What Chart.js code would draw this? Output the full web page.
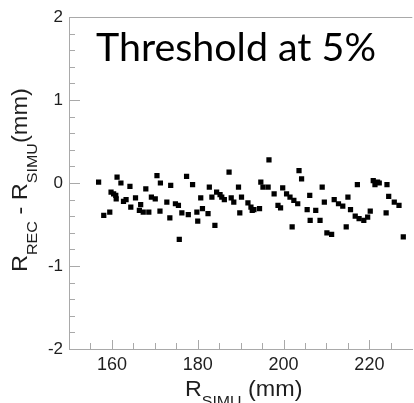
<!DOCTYPE html>
<html>
<head>
<meta charset="utf-8">
<script src="https://cdn.jsdelivr.net/npm/chart.js@4/dist/chart.umd.min.js"></script>
<style>
  html, body { margin: 0; padding: 0; background: #fff; overflow: hidden; width: 414px; height: 403px; }
  #wrap { position: relative; width: 416px; height: 403px; }
</style>
</head>
<body>
<div id="wrap"><canvas id="c" width="416" height="403"></canvas></div>
<script>
// Simulated radius (mm) of each reconstructed event
const rSimu = [
  156.9, 158.1, 159.5, 159.8, 160.4, 160.9, 161.0, 161.2, 162.1, 162.7,
  163.3, 164.2, 164.4, 165.5, 166.4, 166.7, 167.3, 167.9, 168.6, 169.2,
  170.1, 170.5, 171.2, 171.3, 172.8, 173.5, 173.7, 174.8, 175.5, 175.7,
  176.3, 177.4, 177.8, 178.8, 179.8, 180.0, 180.7, 181.1, 182.4, 182.7,
  183.3, 184.0, 184.4, 185.2, 185.6, 186.2, 187.3, 187.8, 188.4, 189.5,
  189.8, 190.2, 191.7, 192.4, 192.7, 193.1, 194.4, 194.7, 195.2, 196.4,
  196.6, 197.8, 198.7, 199.3, 199.8, 200.7, 201.5, 202.0, 202.4, 203.3,
  203.6, 204.2, 205.5, 206.1, 206.2, 207.5, 208.5, 209.0, 209.5, 210.1,
  211.2, 211.8, 212.8, 213.8, 214.6, 215.0, 215.6, 216.7, 217.2, 217.6,
  218.7, 219.6, 220.2, 220.9, 221.3, 221.9, 222.3, 223.9, 224.1, 224.5,
  225.8, 226.9, 227.9
];

// Residual R_REC - R_SIMU (mm) for the same events
const deltaR = [
   0.01, -0.39, -0.35, -0.11, -0.13, -0.15, -0.19,  0.07,  0.00, -0.22,
  -0.20, -0.04, -0.29, -0.18, -0.33, -0.26, -0.35, -0.07, -0.35, -0.17,
  -0.19,  0.09, -0.34,  0.00, -0.23, -0.42, -0.03, -0.25, -0.27, -0.68,
  -0.36,  0.08, -0.38, -0.02, -0.35, -0.46, -0.18, -0.31, -0.37, -0.05,
  -0.17, -0.51, -0.11, -0.14, -0.17, -0.20,  0.13, -0.18, -0.23, -0.05,
  -0.36, -0.17, -0.24, -0.29, -0.33, -0.32, -0.31,  0.01, -0.05, -0.05,
   0.28, -0.13, -0.27, -0.30, -0.06, -0.13, -0.17, -0.53, -0.21, -0.25,
   0.15,  0.05, -0.32, -0.15, -0.45, -0.33, -0.45, -0.05, -0.23, -0.60,
  -0.62, -0.20, -0.25, -0.28, -0.53, -0.17, -0.32, -0.40, -0.02, -0.43,
  -0.45, -0.41, -0.34,  0.03, -0.02,  0.01,  0.00, -0.36, -0.02, -0.16,
  -0.23, -0.27, -0.65
];

// Labelled axis ticks
const xTickValues = [160, 180, 200, 220];
const yTickValues = [-2, -1, 0, 1, 2];

const chartTitle = 'Threshold at 5%';
const xTitleParts = [['R', false], ['SIMU', true], [' (mm)', false]];
const yTitleParts = [['R', false], ['REC', true], [' - R', false], ['SIMU', true], ['(mm)', false]];

const axisColor = '#a9a9a9';
const textColor = '#1e1e1e';
const labelFont = 'Liberation Sans, Arial, sans-serif';

// Draws a title made of normal and subscript runs, starting at the current origin
function drawRuns(ctx, parts) {
  let x = 0;
  for (const [text, sub] of parts) {
    ctx.font = (sub ? '15px ' : '22px ') + labelFont;
    ctx.fillText(text, x, sub ? 10 : 0);
    x += ctx.measureText(text).width;
  }
}

// Inward tick marks (major + minor) and the upper frame line
const frameTicks = {
  id: 'frameTicks',
  beforeDatasetsDraw(chart) {
    const { ctx, chartArea: a, scales: { x, y } } = chart;
    ctx.save();
    ctx.strokeStyle = axisColor;
    ctx.lineWidth = 1;
    ctx.beginPath();
    ctx.moveTo(a.left, Math.round(a.top) + 0.5);
    ctx.lineTo(a.right, Math.round(a.top) + 0.5);
    for (let v = 155; v <= 225; v += 5) {
      const px = Math.round(x.getPixelForValue(v)) + 0.5;
      const len = xTickValues.includes(v) ? 9 : 6;
      ctx.moveTo(px, a.bottom);
      ctx.lineTo(px, a.bottom - len);
    }
    for (let k = -9; k <= 9; k++) {
      const py = Math.round(y.getPixelForValue(k * 0.2)) + 0.5;
      const len = k % 5 === 0 ? 11 : 6;
      ctx.moveTo(a.left, py);
      ctx.lineTo(a.left + len, py);
    }
    ctx.stroke();
    ctx.restore();
  }
};

// Chart caption and axis titles with subscripts
const captions = {
  id: 'captions',
  afterDraw(chart) {
    const { ctx } = chart;
    ctx.save();
    ctx.fillStyle = '#000';
    ctx.textBaseline = 'alphabetic';
    ctx.textAlign = 'left';
    ctx.font = '38px Lato, "Open Sans", sans-serif';
    const w = ctx.measureText(chartTitle).width;
    ctx.translate(96, 61);
    ctx.scale(280 / w, 1);
    ctx.fillText(chartTitle, 0, 0);
    ctx.restore();

    ctx.save();
    ctx.fillStyle = textColor;
    ctx.textBaseline = 'alphabetic';
    ctx.textAlign = 'left';
    ctx.translate(185, 396);
    ctx.scale(1.06, 1);
    drawRuns(ctx, xTitleParts);
    ctx.restore();

    ctx.save();
    ctx.fillStyle = textColor;
    ctx.textBaseline = 'alphabetic';
    ctx.textAlign = 'left';
    ctx.translate(27, 272);
    ctx.rotate(-Math.PI / 2);
    ctx.scale(1.07, 1);
    drawRuns(ctx, yTitleParts);
    ctx.restore();
  }
};

new Chart(document.getElementById('c'), {
  type: 'scatter',
  data: {
    datasets: [{
      data: rSimu.map((r, i) => ({ x: r, y: deltaR[i] })),
      pointStyle: 'rect',
      pointRadius: 3.7,
      pointHoverRadius: 3.7,
      backgroundColor: '#000',
      borderWidth: 0
    }]
  },
  options: {
    responsive: false,
    animation: false,
    devicePixelRatio: 1,
    layout: { padding: { top: 17, left: 0, right: 0, bottom: 0 } },
    plugins: { legend: { display: false }, tooltip: { enabled: false } },
    scales: {
      x: {
        type: 'linear',
        position: 'bottom',
        min: 150,
        max: 230,
        afterBuildTicks: s => { s.ticks = xTickValues.map(v => ({ value: v })); },
        afterFit: s => { s.height = 54; },
        grid: { display: false, drawTicks: false },
        border: { display: true, color: axisColor, width: 1 },
        ticks: {
          autoSkip: false, maxRotation: 0, padding: 5,
          color: textColor,
          font: { family: labelFont, size: 18 }
        }
      },
      y: {
        type: 'linear',
        min: -2,
        max: 2,
        afterBuildTicks: s => { s.ticks = yTickValues.map(v => ({ value: v })); },
        afterFit: s => { s.width = 69; },
        grid: { display: false, drawTicks: false },
        border: { display: true, color: axisColor, width: 1 },
        ticks: {
          autoSkip: false, padding: 6,
          color: textColor,
          font: { family: labelFont, size: 17 }
        }
      }
    }
  },
  plugins: [frameTicks, captions]
});
</script>
</body>
</html>
